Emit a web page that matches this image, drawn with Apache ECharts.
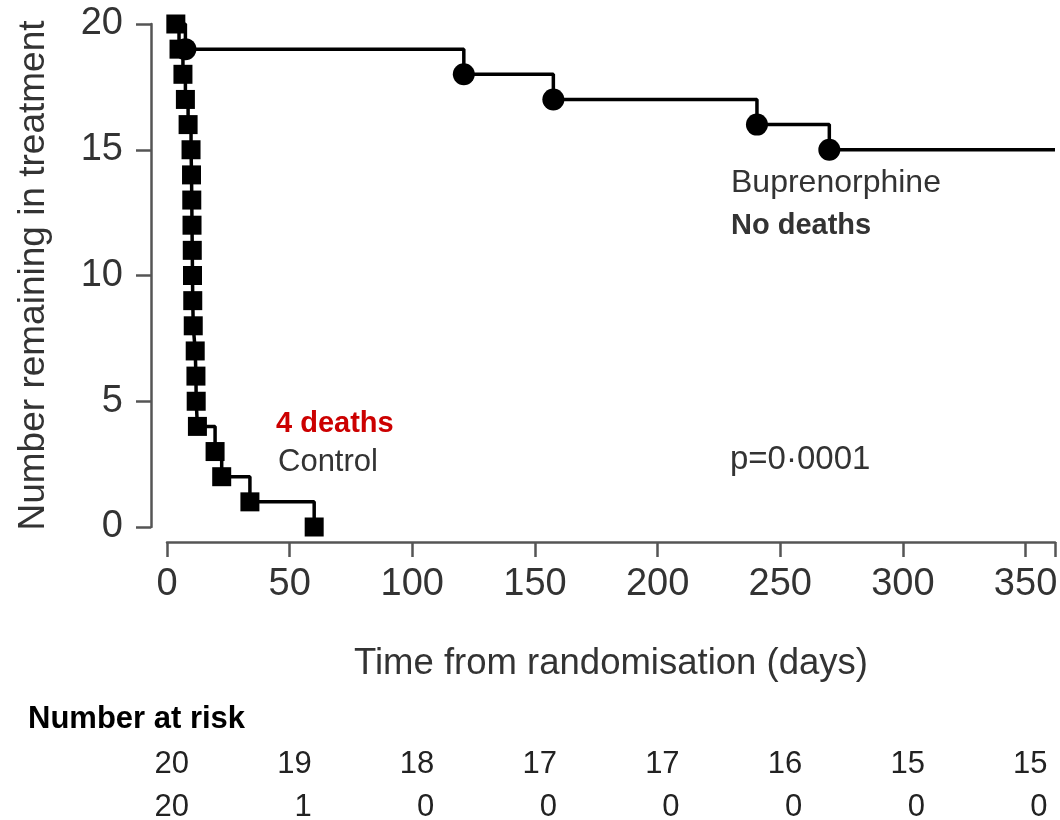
<!DOCTYPE html>
<html>
<head>
<meta charset="utf-8">
<script src="https://cdn.jsdelivr.net/npm/echarts@6/dist/echarts.min.js"></script>
<style>
html,body{margin:0;padding:0;background:#fff;}
#chart{width:1060px;height:820px;}
</style>
</head>
<body>
<div id="chart"></div>
<script>
// ---- data ----
const controlDays   = [3.6, 4.9, 6.5, 7.5, 8.6, 9.8, 10.0, 10.1, 10.2, 10.3, 10.4, 10.5, 10.7, 11.5, 11.8, 11.9, 12.4, 19.6, 22.3, 33.8, 60];
const controlCounts = [20, 19, 18, 17, 16, 15, 14, 13, 12, 11, 10, 9, 8, 7, 6, 5, 4, 3, 2, 1, 0];

const bupDays    = [3.6, 7.5, 121, 157.5, 240.5, 270, 362];
const bupCounts  = [20, 19, 18, 17, 16, 15, 15];
const bupMarked  = [false, true, true, true, true, true, false];

const riskTimes   = [0, 50, 100, 150, 200, 250, 300, 350];
const riskBup     = [20, 19, 18, 17, 17, 16, 15, 15];
const riskControl = [20, 1, 0, 0, 0, 0, 0, 0];
const riskRows    = ['Buprenorphine', 'Control'];

const xTickValues = [0, 50, 100, 150, 200, 250, 300, 350];

// ---- chart ----
const FONT = '"Liberation Sans", Arial, Helvetica, sans-serif';
const chart = echarts.init(document.getElementById('chart'), null, {renderer: 'canvas'});

const controlData = controlDays.map((d, i) => [d, controlCounts[i]]);
const bupData = bupDays.map((d, i) => ({value: [d, bupCounts[i]], symbol: bupMarked[i] ? 'circle' : 'none'}));
const riskData = [];
riskTimes.forEach((t, i) => {
  riskData.push([t, 0, riskBup[i]]);
  riskData.push([t, 1, riskControl[i]]);
});

const axisLineStyle = {color: '#555', width: 2.5};

const option = {
  animation: false,
  backgroundColor: '#fff',
  grid: [
    {left: 167, right: 5, top: 24, bottom: 293, outerBoundsMode: 'none', containLabel: false},
    {left: 167, right: 5, top: 743, height: 86, outerBoundsMode: 'none', containLabel: false}
  ],
  xAxis: [
    {
      type: 'value', gridIndex: 0, min: 0, max: 362, interval: 50, offset: 15,
      name: 'Time from randomisation (days)', nameLocation: 'middle', nameGap: 103,
      nameTextStyle: {fontFamily: FONT, fontSize: 36.5, color: '#333'},
      axisLine: {show: true, onZero: false, lineStyle: axisLineStyle},
      axisTick: {show: true, length: 15, lineStyle: axisLineStyle},
      axisLabel: {show: true, margin: 24, fontFamily: FONT, fontSize: 38, color: '#333',
                  customValues: xTickValues},
      splitLine: {show: false}
    },
    {
      type: 'value', gridIndex: 1, min: 0, max: 362, show: false
    }
  ],
  yAxis: [
    {
      type: 'value', gridIndex: 0, min: 0, max: 20, interval: 5, offset: 16,
      name: 'Number remaining in treatment', nameLocation: 'middle', nameGap: 99,
      nameTextStyle: {fontFamily: FONT, fontSize: 37, color: '#333'},
      axisLine: {show: true, onZero: false, lineStyle: axisLineStyle},
      axisTick: {show: true, length: 15, lineStyle: axisLineStyle},
      axisLabel: {show: true, margin: 28, fontFamily: FONT, fontSize: 38, color: '#333'},
      splitLine: {show: false}
    },
    {
      type: 'category', gridIndex: 1, data: riskRows, inverse: true, show: false
    }
  ],
  series: [
    {
      name: 'Control', type: 'line', step: 'end', xAxisIndex: 0, yAxisIndex: 0,
      data: controlData, symbol: 'rect', symbolSize: 19,
      itemStyle: {color: '#000'}, lineStyle: {color: '#000', width: 3.5},
      z: 3
    },
    {
      name: 'Buprenorphine', type: 'line', step: 'end', xAxisIndex: 0, yAxisIndex: 0,
      data: bupData, symbolSize: 22,
      itemStyle: {color: '#000'}, lineStyle: {color: '#000', width: 3.5},
      z: 4
    },
    {
      name: 'Number at risk', type: 'scatter', xAxisIndex: 1, yAxisIndex: 1,
      data: riskData, symbolSize: 1, itemStyle: {color: 'transparent', opacity: 1},
      label: {
        show: true, position: 'inside', align: 'right', offset: [22, 0], opacity: 1,
        fontFamily: FONT, fontSize: 31, color: '#222',
        formatter: p => String(p.value[2])
      }
    }
  ],
  graphic: [
    {type: 'text', left: 731, top: 167, style: {text: 'Buprenorphine', font: '32px ' + FONT, fill: '#333'}},
    {type: 'text', left: 731, top: 211, style: {text: 'No deaths', font: 'bold 29px ' + FONT, fill: '#333'}},
    {type: 'text', left: 276, top: 409, style: {text: '4 deaths', font: 'bold 29px ' + FONT, fill: '#cc0000'}},
    {type: 'text', left: 278, top: 447, style: {text: 'Control', font: '31px ' + FONT, fill: '#333'}},
    {type: 'text', left: 730, top: 443, style: {text: 'p=0·0001', font: '33px ' + FONT, fill: '#333'}},
    {type: 'text', left: 28, top: 704, style: {text: 'Number at risk', font: 'bold 31px ' + FONT, fill: '#000'}}
  ]
};
chart.setOption(option);
</script>
</body>
</html>
